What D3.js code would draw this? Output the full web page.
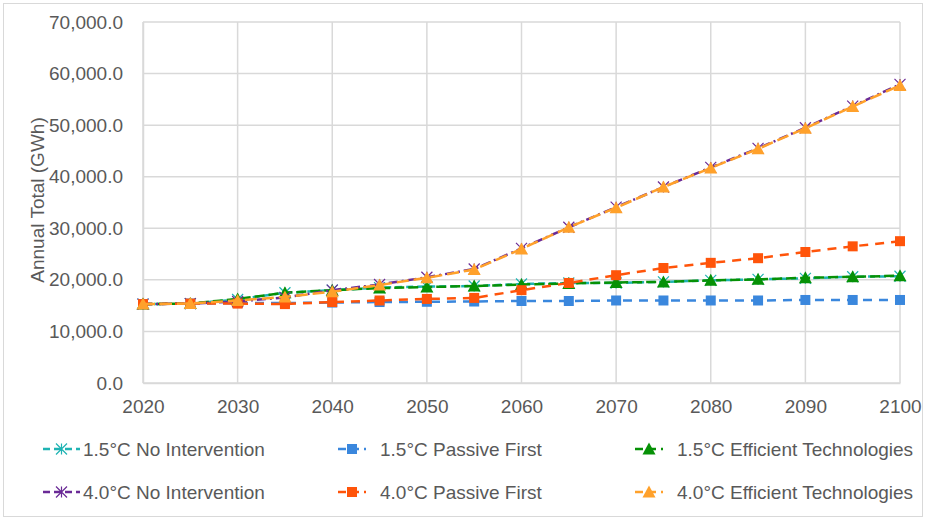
<!DOCTYPE html>
<html lang="en">
<head>
<meta charset="utf-8">
<title>Annual Total (GWh)</title>
<script src="https://cdn.jsdelivr.net/npm/d3@7"></script>
<style>
  body { margin: 0; background: #fff; }
  text { font-family: "Liberation Sans", Arial, sans-serif; fill: #595959; }
</style>
</head>
<body>
<script>
// years on the x axis
var years = [2020, 2025, 2030, 2035, 2040, 2045, 2050, 2055, 2060, 2065, 2070, 2075, 2080, 2085, 2090, 2095, 2100];

// series values (GWh)
var noInt15   = [15300, 15400, 16200, 17500, 18000, 18500, 18700, 18800, 19200, 19400, 19400, 19600, 19900, 20100, 20300, 20600, 20700];
var passive15 = [15300, 15400, 15500, 15500, 15600, 15700, 15750, 15800, 15900, 15900, 16000, 16000, 16000, 16000, 16100, 16100, 16100];
var eff15     = [15300, 15400, 16300, 17500, 18000, 18400, 18600, 18800, 19100, 19300, 19500, 19600, 19900, 20100, 20400, 20600, 20800];
var noInt40   = [15300, 15400, 15800, 16600, 18000, 19100, 20500, 22100, 26100, 30200, 34100, 38000, 41800, 45500, 49500, 53700, 57900];
var passive40 = [15300, 15400, 15400, 15300, 15700, 16000, 16300, 16500, 18000, 19400, 20900, 22300, 23300, 24200, 25400, 26500, 27500];
var eff40     = [15300, 15400, 16000, 16700, 17700, 19000, 20400, 22000, 26000, 30200, 34000, 38000, 41700, 45400, 49400, 53600, 57700];

var seriesNames = ["1.5°C No Intervention", "1.5°C Passive First", "1.5°C Efficient Technologies",
                   "4.0°C No Intervention", "4.0°C Passive First", "4.0°C Efficient Technologies"];
var yTicks = [0, 10000, 20000, 30000, 40000, 50000, 60000, 70000];
var xTicks = [2020, 2030, 2040, 2050, 2060, 2070, 2080, 2090, 2100];

var series = [
  {name: seriesNames[0], values: noInt15,   color: "#1fb3b3", dash: "7,4",     marker: "star"},
  {name: seriesNames[1], values: passive15, color: "#3a87dd", dash: "9,7",     marker: "square"},
  {name: seriesNames[2], values: eff15,     color: "#069106", dash: "10,4",    marker: "triangle"},
  {name: seriesNames[3], values: noInt40,   color: "#6a2a96", dash: "9,4,2,4", marker: "star"},
  {name: seriesNames[4], values: passive40, color: "#ff540a", dash: "9,7",     marker: "square"},
  {name: seriesNames[5], values: eff40,     color: "#ffa12b", dash: "12,5",    marker: "triangle"}
];

var w = 926, h = 521;
var pLeft = 143, pRight = 900, pTop = 22, pBottom = 383;
var fontStack = "'Liberation Sans', Arial, sans-serif";

var svg = d3.select("body").append("svg").attr("width", w).attr("height", h);

svg.append("rect").attr("x", 3.5).attr("y", 3.5).attr("width", w - 7).attr("height", h - 8)
   .attr("fill", "#fff").attr("stroke", "#d9d9d9");

var xScale = d3.scaleLinear().domain([2020, 2100]).range([pLeft, pRight]);
var yScale = d3.scaleLinear().domain([0, 70000]).range([pBottom, pTop]);

// gridlines
svg.append("g").selectAll("line").data(yTicks).enter().append("line")
   .attr("x1", pLeft).attr("x2", pRight)
   .attr("y1", function(d) { return yScale(d); }).attr("y2", function(d) { return yScale(d); })
   .attr("stroke", "#d9d9d9").attr("stroke-width", 1.5);
svg.append("g").selectAll("line").data(xTicks).enter().append("line")
   .attr("x1", function(d) { return xScale(d); }).attr("x2", function(d) { return xScale(d); })
   .attr("y1", pTop).attr("y2", pBottom)
   .attr("stroke", "#d9d9d9").attr("stroke-width", 1.5);

// axes
var fmt = d3.format(",.1f");
var yAxis = svg.append("g").attr("transform", "translate(" + pLeft + ",0)")
   .call(d3.axisLeft(yScale).tickValues(yTicks).tickFormat(fmt).tickSize(0).tickPadding(20));
yAxis.select(".domain").attr("stroke", "#d9d9d9").attr("stroke-width", 1.5);
yAxis.selectAll("text").style("font-size", "19px").attr("fill", "#595959").style("font-family", fontStack);

var xAxis = svg.append("g").attr("transform", "translate(0," + pBottom + ")")
   .call(d3.axisBottom(xScale).tickValues(xTicks).tickFormat(d3.format("d")).tickSize(0).tickPadding(17));
xAxis.select(".domain").attr("stroke", "#d9d9d9").attr("stroke-width", 1.5);
xAxis.selectAll("text").style("font-size", "19px").attr("fill", "#595959").style("font-family", fontStack);

svg.append("text")
   .attr("transform", "translate(44,200) rotate(-90)")
   .attr("text-anchor", "middle")
   .style("font-size", "19px")
   .text("Annual Total (GWh)");

// markers
function drawMarker(g, type, color, x, y) {
  if (type === "square") {
    g.append("rect").attr("x", x - 5).attr("y", y - 5).attr("width", 10).attr("height", 10)
     .attr("fill", color);
  } else if (type === "triangle") {
    g.append("path").attr("d", "M" + x + "," + (y - 6.5) + "L" + (x + 6.5) + "," + (y + 5.5) + "L" + (x - 6.5) + "," + (y + 5.5) + "Z")
     .attr("fill", color);
  } else {
    g.append("path")
     .attr("d", "M" + (x - 5.5) + "," + (y - 5.5) + "L" + (x + 5.5) + "," + (y + 5.5) +
                "M" + (x - 5.5) + "," + (y + 5.5) + "L" + (x + 5.5) + "," + (y - 5.5) +
                "M" + x + "," + (y - 5.5) + "L" + x + "," + (y + 5.5))
     .attr("stroke", color).attr("stroke-width", 1.2).attr("fill", "none");
  }
}

var line = d3.line()
   .x(function(d, i) { return xScale(years[i]); })
   .y(function(d) { return yScale(d); });

series.forEach(function(s) {
  var g = svg.append("g");
  g.append("path").datum(s.values).attr("d", line)
   .attr("fill", "none").attr("stroke", s.color).attr("stroke-width", 2.5)
   .attr("stroke-dasharray", s.dash);
  s.values.forEach(function(v, i) {
    drawMarker(g, s.marker, s.color, xScale(years[i]), yScale(v));
  });
});

// legend
var legX = [43, 338, 635], legY = [449, 492];
series.forEach(function(s, i) {
  var col = i % 3, lx = legX[col], ly = legY[Math.floor(i / 3)];
  var g = svg.append("g");
  var len = col === 0 ? 37 : 28;
  g.append("line").attr("x1", lx).attr("x2", lx + len).attr("y1", ly).attr("y2", ly)
   .attr("stroke", s.color).attr("stroke-width", 2.5).attr("stroke-dasharray", col === 0 ? "7,4" : "8,5");
  drawMarker(g, s.marker, s.color, lx + len / 2, ly);
  g.append("text").attr("x", col === 0 ? lx + 40 : lx + 42).attr("y", ly + 7)
   .style("font-size", "19px").text(s.name);
});
</script>
</body>
</html>
